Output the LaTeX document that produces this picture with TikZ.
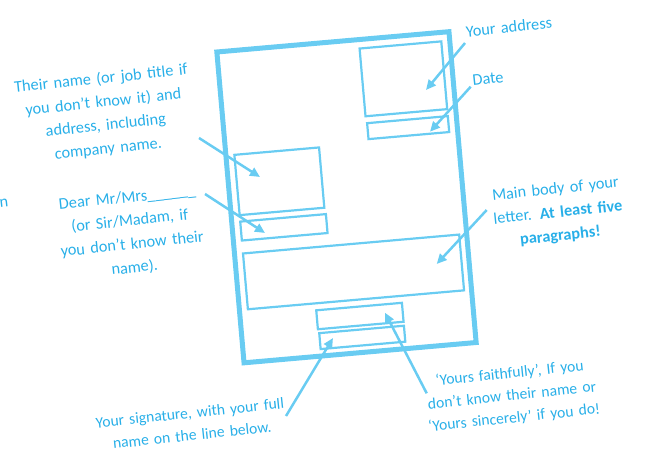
\documentclass[tikz,border=0pt]{standalone}
\usepackage{fontspec}
\setmainfont{Carlito}
\usetikzlibrary{arrows.meta}
\definecolor{txtblue}{RGB}{40,175,232}
\definecolor{boxblue}{RGB}{105,204,242}
\begin{document}
\begin{tikzpicture}[x=1pt,y=-1pt,
  lbl/.style={text=txtblue, font=\fontsize{16.3}{23.5}\selectfont, align=center, rotate=6, inner sep=0pt, text width=215pt},
  smalllbl/.style={lbl, font=\fontsize{15.6}{22.3}\selectfont},
  pagebox/.style={draw=boxblue, line width=5pt},
  fieldbox/.style={draw=boxblue, line width=2.2pt},
  pointer/.style={draw=boxblue, line width=2.5pt, -{Triangle[length=10pt,width=9pt]}}]
\useasboundingbox (0,0) rectangle (646,450);
% the letter page and its fields
\begin{scope}[shift={(346.5,197.25)}, rotate=5]
  \draw[pagebox] (-116.5,-156) rectangle (116.5,156);
  \draw[fieldbox] (26,-147) rectangle (108,-79);   % your address
  \draw[fieldbox] (27,-72) rectangle (108,-56);    % date
  \draw[fieldbox] (-108,-52) rectangle (-23,8.5);  % their name/address
  \draw[fieldbox] (-108,15) rectangle (-22,34);    % dear
  \draw[fieldbox] (-108,47) rectangle (109,103);   % main body
  \draw[fieldbox] (-40,110) rectangle (46,129);    % closing
  \draw[fieldbox] (-39,133) rectangle (46,149);    % signature
\end{scope}
% labels
\node[lbl] (tAddr) at (509,27) {Your address};
\node[lbl] (tDate) at (488,79) {Date};
\node[lbl] (tMain) at (558,213) {Main body of your\\letter. \textbf{At least five}\\\textbf{paragraphs!}};
\node[lbl] (tName) at (104.6,114) {Their name (or job title if\\you don’t know it) and\\address, including\\company name.};
\node[lbl] (tDear) at (131,233) {Dear Mr/Mrs\_\_\_\_\_\_\\(or Sir/Madam, if\\you don’t know their\\name).};
\node[smalllbl] (tSig) at (191,424) {Your signature, with your full\\name on the line below.};
\node[smalllbl] (tClose) at (512,396) {‘Yours faithfully’, If you\\don’t know their name or\\‘Yours sincerely’ if you do!};
\node[lbl, text width=, align=left, anchor=east] (tCut) at (8.5,203) {n};
% pointer ends
\coordinate (sAddr) at (465,43);   \coordinate (eAddr) at (426,90);
\coordinate (sDate) at (470.7,86.7); \coordinate (eDate) at (430,131.7);
\coordinate (sMain) at (486.7,210); \coordinate (eMain) at (436.7,264);
\coordinate (sName) at (199,138);  \coordinate (eName) at (260,177);
\coordinate (sDear) at (205,194);  \coordinate (eDear) at (265,233);
\coordinate (sSig) at (286,416);   \coordinate (eSig) at (333,338);
\coordinate (sClose) at (426.7,393.3); \coordinate (eClose) at (385,312.7);
\draw[pointer] (sAddr) -- (eAddr);
\draw[pointer] (sDate) -- (eDate);
\draw[pointer] (sMain) -- (eMain);
\draw[pointer] (sName) -- (eName);
\draw[pointer] (sDear) -- (eDear);
\draw[pointer] (sSig) -- (eSig);
\draw[pointer] (sClose) -- (eClose);
\end{tikzpicture}
\end{document}
